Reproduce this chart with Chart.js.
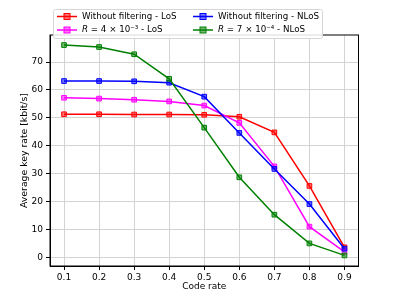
<!doctype html>
<html lang="en">
 <head>
  <meta charset="UTF-8">
  <title>Average key rate vs code rate</title>
  <script src="https://cdn.jsdelivr.net/npm/chart.js@4.4.0/dist/chart.umd.min.js"></script>
  <style>
   html, body { margin: 0; padding: 0; background: #fff; }
   #wrap { width: 399px; height: 299px; }
  </style>
 </head>
 <body>
  <div id="wrap"><canvas id="chart" width="399" height="299"></canvas></div>
  <script>
// data
var codeRates = [0.1, 0.2, 0.3, 0.4, 0.5, 0.6, 0.7, 0.8, 0.9];
var noFilterLoS  = [51.3, 51.3, 51.2, 51.2, 51.1, 50.4, 44.8, 25.6, 3.6];
var filterLoS    = [57.2, 56.9, 56.5, 55.9, 54.4, 48.2, 32.6, 11.0, 2.0];
var noFilterNLoS = [63.2, 63.2, 63.1, 62.6, 57.6, 44.6, 31.7, 19.1, 3.1];
var filterNLoS   = [76.1, 75.4, 72.8, 64.0, 46.5, 28.7, 15.3, 5.0, 0.7];
var seriesLabels = ['Without filtering - LoS', 'R = 4 × 10⁻³ - LoS', 'Without filtering - NLoS', 'R = 7 × 10⁻⁴ - NLoS'];
var xTicks = [0.1, 0.2, 0.3, 0.4, 0.5, 0.6, 0.7, 0.8, 0.9];
var yTicks = [0, 10, 20, 30, 40, 50, 60, 70];

var FONT = '"DejaVu Sans", sans-serif';
var colors = ['#ff0000', '#ff00ff', '#0000ff', '#008000'];
var fills = ['rgba(255,0,0,0.55)', 'rgba(255,0,255,0.55)', 'rgba(0,0,255,0.55)', 'rgba(0,128,0,0.55)'];
var allSeries = [noFilterLoS, filterLoS, noFilterNLoS, filterNLoS];

function makeSet(i) {
    return {
        label: seriesLabels[i],
        data: codeRates.map(function (x, k) { return { x: x, y: allSeries[i][k] }; }),
        borderColor: colors[i],
        backgroundColor: fills[i],
        pointBackgroundColor: fills[i],
        pointBorderColor: colors[i],
        pointStyle: 'rect',
        pointRadius: 3.3,
        pointBorderWidth: 1,
        borderWidth: 1.5,
        tension: 0,
        order: 3 - i
    };
}

// frame on all four sides + matplotlib style legend inside the axes
var framePlugin = {
    id: 'frame',
    afterDatasetsDraw: function (chart) {
        var ctx = chart.ctx, a = chart.chartArea;
        ctx.save();
        ctx.strokeStyle = '#000';
        ctx.lineWidth = 1;
        ctx.strokeRect(a.left, a.top, a.right - a.left, a.bottom - a.top);

        // legend box
        var bx = 53, by = 9, bw = 269, bh = 29;
        ctx.fillStyle = 'rgba(255,255,255,0.85)';
        ctx.strokeStyle = '#d6d6d6';
        ctx.beginPath();
        ctx.roundRect(bx + 0.5, by + 0.5, bw, bh, 2);
        ctx.fill();
        ctx.stroke();

        var cols = [[57, 82], [193, 218]];
        var rows = [16.5, 30];
        for (var i = 0; i < 4; i++) {
            var c = cols[Math.floor(i / 2)], y = rows[i % 2];
            ctx.strokeStyle = colors[i];
            ctx.lineWidth = 1.5;
            ctx.beginPath();
            ctx.moveTo(c[0], y);
            ctx.lineTo(c[0] + 20, y);
            ctx.stroke();
            ctx.fillStyle = fills[i];
            ctx.fillRect(c[0] + 7, y - 3, 6, 6);
            ctx.lineWidth = 1;
            ctx.strokeRect(c[0] + 7, y - 3, 6, 6);

            ctx.fillStyle = '#000';
            ctx.textBaseline = 'middle';
            var lab = seriesLabels[i], x = c[1];
            if (lab.indexOf('R ') === 0) {
                ctx.font = 'italic 8.7px ' + FONT;
                ctx.fillText('R', x, y);
                x += ctx.measureText('R').width;
                lab = lab.slice(1);
            }
            ctx.font = '8.7px ' + FONT;
            ctx.fillText(lab, x, y);
        }
        ctx.restore();
    }
};

new Chart(document.getElementById('chart'), {
    type: 'line',
    data: { datasets: [0, 1, 2, 3].map(makeSet) },
    options: {
        responsive: false,
        animation: false,
        layout: { padding: { left: 19, top: 35, right: 40.5, bottom: 7 } },
        plugins: { legend: { display: false }, tooltip: { enabled: false } },
        scales: {
            x: {
                type: 'linear',
                min: 0.06,
                max: 0.94,
                afterBuildTicks: function (s) { s.ticks = xTicks.map(function (v) { return { value: v }; }); },
                afterFit: function (s) { s.height = 26; },
                ticks: {
                    font: { family: FONT, size: 9 },
                    color: '#000',
                    padding: 2,
                    maxRotation: 0,
                    callback: function (v) { return v.toFixed(1); }
                },
                grid: { color: '#d3d3d3', lineWidth: 1, tickLength: 4, tickColor: '#000' },
                border: { color: '#000' },
                title: { display: true, text: 'Code rate', font: { family: FONT, size: 9 }, color: '#000', padding: 0 }
            },
            y: {
                min: -3.1,
                max: 79.7,
                afterBuildTicks: function (s) { s.ticks = yTicks.map(function (v) { return { value: v }; }); },
                afterFit: function (s) { s.width = 31; },
                ticks: { font: { family: FONT, size: 9 }, color: '#000', padding: 3 },
                grid: { color: '#d3d3d3', lineWidth: 1, tickLength: 4, tickColor: '#000' },
                border: { color: '#000' },
                title: { display: true, text: 'Average key rate [kbit/s]', font: { family: FONT, size: 9.3 }, color: '#000', padding: 0 }
            }
        }
    },
    plugins: [framePlugin]
});
  </script>
 </body>
</html>
